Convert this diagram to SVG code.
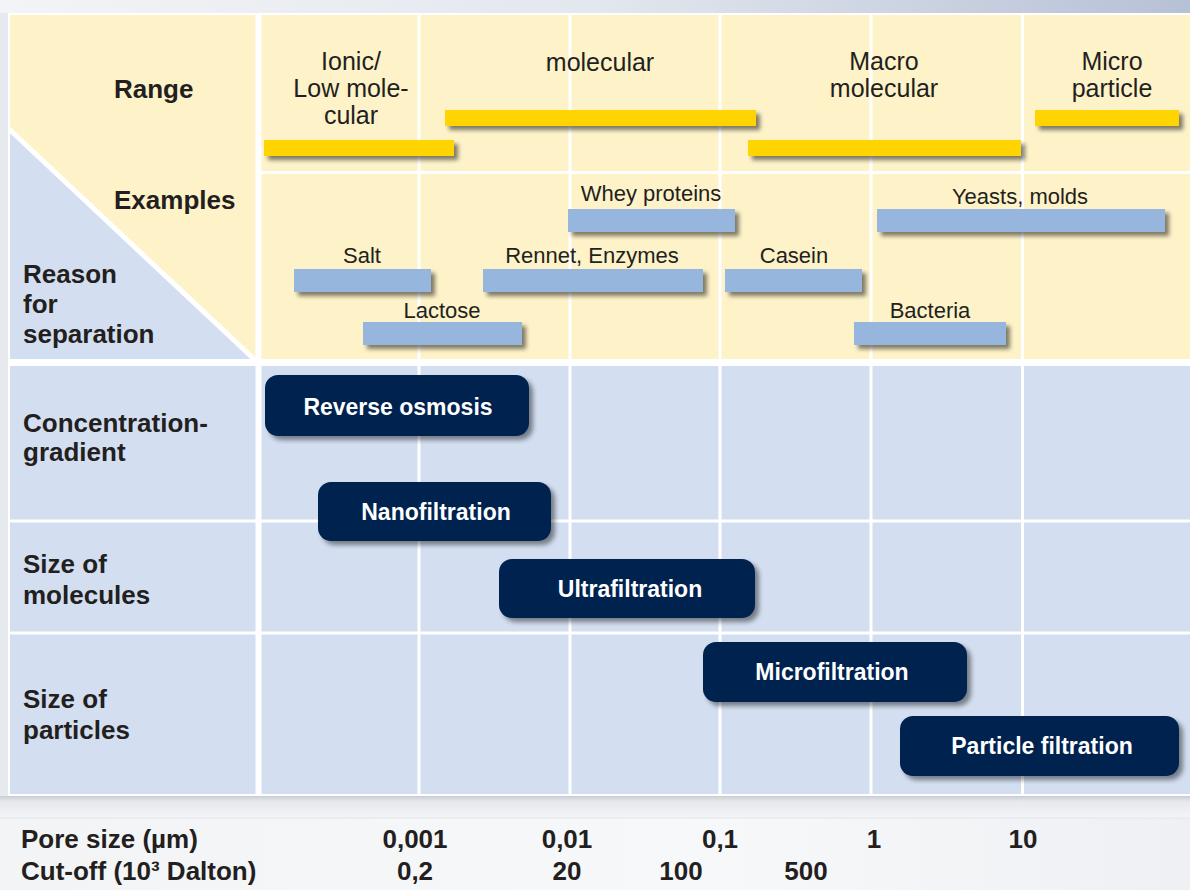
<svg xmlns="http://www.w3.org/2000/svg" width="1190" height="890" viewBox="0 0 1190 890">
<defs>
<linearGradient id="topband" x1="0" y1="0" x2="1" y2="0">
<stop offset="0" stop-color="#F3F4F7"/><stop offset="0.5" stop-color="#E3E7EE"/><stop offset="1" stop-color="#B7C1D6"/>
</linearGradient>
<linearGradient id="bottombg" x1="0" y1="0" x2="0" y2="1">
<stop offset="0" stop-color="#C9CDD3"/><stop offset="0.25" stop-color="#E6E8EC"/><stop offset="1" stop-color="#F4F5F7"/>
</linearGradient>
<linearGradient id="lowerbg" x1="0" y1="0" x2="1" y2="0">
<stop offset="0" stop-color="#F3F4F6"/><stop offset="0.6" stop-color="#F7F8FA"/><stop offset="1" stop-color="#EEF0F3"/>
</linearGradient>
<filter id="sh" x="-10%" y="-40%" width="125%" height="200%">
<feGaussianBlur in="SourceAlpha" stdDeviation="2"/>
<feOffset dx="4" dy="4" result="b"/>
<feComponentTransfer><feFuncA type="linear" slope="0.5"/></feComponentTransfer>
<feMerge><feMergeNode/><feMergeNode in="SourceGraphic"/></feMerge>
</filter>
<filter id="shbox" x="-10%" y="-20%" width="125%" height="150%">
<feGaussianBlur in="SourceAlpha" stdDeviation="2.5"/>
<feOffset dx="4" dy="4" result="b"/>
<feComponentTransfer><feFuncA type="linear" slope="0.45"/></feComponentTransfer>
<feMerge><feMergeNode/><feMergeNode in="SourceGraphic"/></feMerge>
</filter>
</defs>
<style>
.lbl{font-family:"Liberation Sans",Arial,sans-serif;font-weight:bold;font-size:26px;fill:#231F20}
.rng{font-family:"Liberation Sans",Arial,sans-serif;font-size:25px;fill:#231F20;text-anchor:middle}
.ex{font-family:"Liberation Sans",Arial,sans-serif;font-size:22px;fill:#231F20;text-anchor:middle}
.box{fill:#00234F}
.bt{font-family:"Liberation Sans",Arial,sans-serif;font-weight:bold;font-size:23px;fill:#FFFFFF;text-anchor:middle}
.ax{font-family:"Liberation Sans",Arial,sans-serif;font-weight:bold;font-size:26px;fill:#231F20}
.axv{font-family:"Liberation Sans",Arial,sans-serif;font-weight:bold;font-size:26px;fill:#231F20;text-anchor:middle}
.ybar{fill:#FFD400}
.bbar{fill:#97B6DE}
.gl{stroke:#FFFFFF;stroke-width:3}
</style>

<!-- background -->
<rect x="0" y="0" width="1190" height="890" fill="url(#lowerbg)"/>
<rect x="0" y="0" width="1190" height="13" fill="url(#topband)"/>
<rect x="0" y="796" width="1190" height="22" fill="url(#bottombg)"/>
<line x1="0" y1="818" x2="1190" y2="818" stroke="#E2E5EA" stroke-width="1"/>
<rect x="0" y="13" width="8" height="783" fill="#E6E9EE"/>

<!-- table -->
<g id="grid">
<rect x="8" y="13" width="1182" height="783" fill="#FFFFFF"/>
<rect x="10" y="15" width="1180" height="344" fill="#FDF2C8"/>
<rect x="10" y="366" width="1180" height="428" fill="#D3DFF1"/>
<polygon points="10,131 10,359 254,359" fill="#D3DFF1"/>
<line x1="9" y1="129" x2="255" y2="360" stroke="#FFFFFF" stroke-width="5"/>
<line x1="258.5" y1="13" x2="258.5" y2="796" stroke="#FFFFFF" stroke-width="6"/>
<line class="gl" x1="419" y1="13" x2="419" y2="796"/>
<line class="gl" x1="570" y1="13" x2="570" y2="796"/>
<line class="gl" x1="720" y1="13" x2="720" y2="796"/>
<line class="gl" x1="871" y1="13" x2="871" y2="796"/>
<line class="gl" x1="1022.5" y1="13" x2="1022.5" y2="796"/>
<line class="gl" x1="261" y1="172.5" x2="1190" y2="172.5"/>
<line x1="8" y1="362.5" x2="1190" y2="362.5" stroke="#FFFFFF" stroke-width="7"/>
<line class="gl" x1="8" y1="521" x2="1190" y2="521"/>
<line class="gl" x1="8" y1="633" x2="1190" y2="633"/>
</g>

<!-- row labels -->
<g id="row-labels">
<text class="lbl" x="114" y="98">Range</text>
<text class="lbl" x="114" y="209">Examples</text>
<text class="lbl" x="23" y="283">Reason</text>
<text class="lbl" x="23" y="313">for</text>
<text class="lbl" x="23" y="343">separation</text>
<text class="lbl" x="23" y="432">Concentration-</text>
<text class="lbl" x="23" y="461">gradient</text>
<text class="lbl" x="23" y="573">Size of</text>
<text class="lbl" x="23" y="604">molecules</text>
<text class="lbl" x="23" y="708">Size of</text>
<text class="lbl" x="23" y="739">particles</text>
</g>

<!-- range -->
<g id="range-ionic">
<text class="rng" x="351" y="70">Ionic/</text>
<text class="rng" x="351" y="97">Low mole-</text>
<text class="rng" x="351" y="124">cular</text>
<rect class="ybar" x="264" y="140" width="190" height="16" filter="url(#sh)"/>
</g>
<g id="range-molecular">
<text class="rng" x="600" y="71">molecular</text>
<rect class="ybar" x="445" y="110" width="311" height="16" filter="url(#sh)"/>
</g>
<g id="range-macro">
<text class="rng" x="884" y="70">Macro</text>
<text class="rng" x="884" y="97">molecular</text>
<rect class="ybar" x="748" y="140" width="273" height="16" filter="url(#sh)"/>
</g>
<g id="range-micro">
<text class="rng" x="1112" y="70">Micro</text>
<text class="rng" x="1112" y="97">particle</text>
<rect class="ybar" x="1035" y="110" width="144" height="16" filter="url(#sh)"/>
</g>

<!-- examples -->
<g id="ex-whey">
<text class="ex" x="651" y="201">Whey proteins</text>
<rect class="bbar" x="568" y="209" width="167" height="23" filter="url(#sh)"/>
</g>
<g id="ex-yeasts">
<text class="ex" x="1020" y="204">Yeasts, molds</text>
<rect class="bbar" x="877" y="209" width="288" height="23" filter="url(#sh)"/>
</g>
<g id="ex-salt">
<text class="ex" x="362" y="263">Salt</text>
<rect class="bbar" x="294" y="269" width="137" height="23" filter="url(#sh)"/>
</g>
<g id="ex-rennet">
<text class="ex" x="592" y="263">Rennet, Enzymes</text>
<rect class="bbar" x="483" y="269" width="220" height="23" filter="url(#sh)"/>
</g>
<g id="ex-casein">
<text class="ex" x="794" y="263">Casein</text>
<rect class="bbar" x="725" y="269" width="137" height="23" filter="url(#sh)"/>
</g>
<g id="ex-lactose">
<text class="ex" x="442" y="318">Lactose</text>
<rect class="bbar" x="363" y="322" width="159" height="23" filter="url(#sh)"/>
</g>
<g id="ex-bacteria">
<text class="ex" x="930" y="318">Bacteria</text>
<rect class="bbar" x="854" y="322" width="152" height="23" filter="url(#sh)"/>
</g>

<!-- processes -->
<g id="reverse-osmosis">
<rect class="box" x="265" y="375" width="264" height="61" rx="13" filter="url(#shbox)"/>
<text class="bt" x="398" y="415">Reverse osmosis</text>
</g>
<g id="nanofiltration">
<rect class="box" x="318" y="482" width="233" height="59" rx="13" filter="url(#shbox)"/>
<text class="bt" x="436" y="520">Nanofiltration</text>
</g>
<g id="ultrafiltration">
<rect class="box" x="499" y="559" width="256" height="59" rx="13" filter="url(#shbox)"/>
<text class="bt" x="630" y="597">Ultrafiltration</text>
</g>
<g id="microfiltration">
<rect class="box" x="703" y="642" width="264" height="60" rx="13" filter="url(#shbox)"/>
<text class="bt" x="832" y="680">Microfiltration</text>
</g>
<g id="particle-filtration">
<rect class="box" x="900" y="716" width="279" height="60" rx="13" filter="url(#shbox)"/>
<text class="bt" x="1042" y="754">Particle filtration</text>
</g>

<!-- axis -->
<g id="axis">
<text class="ax" x="21" y="848">Pore size (µm)</text>
<text class="ax" x="21" y="880">Cut-off (10³ Dalton)</text>
<text class="axv" x="415" y="848">0,001</text>
<text class="axv" x="567" y="848">0,01</text>
<text class="axv" x="720" y="848">0,1</text>
<text class="axv" x="874" y="848">1</text>
<text class="axv" x="1023" y="848">10</text>
<text class="axv" x="415" y="880">0,2</text>
<text class="axv" x="567" y="880">20</text>
<text class="axv" x="681" y="880">100</text>
<text class="axv" x="806" y="880">500</text>
</g>
<g id="connectors"></g>
</svg>
